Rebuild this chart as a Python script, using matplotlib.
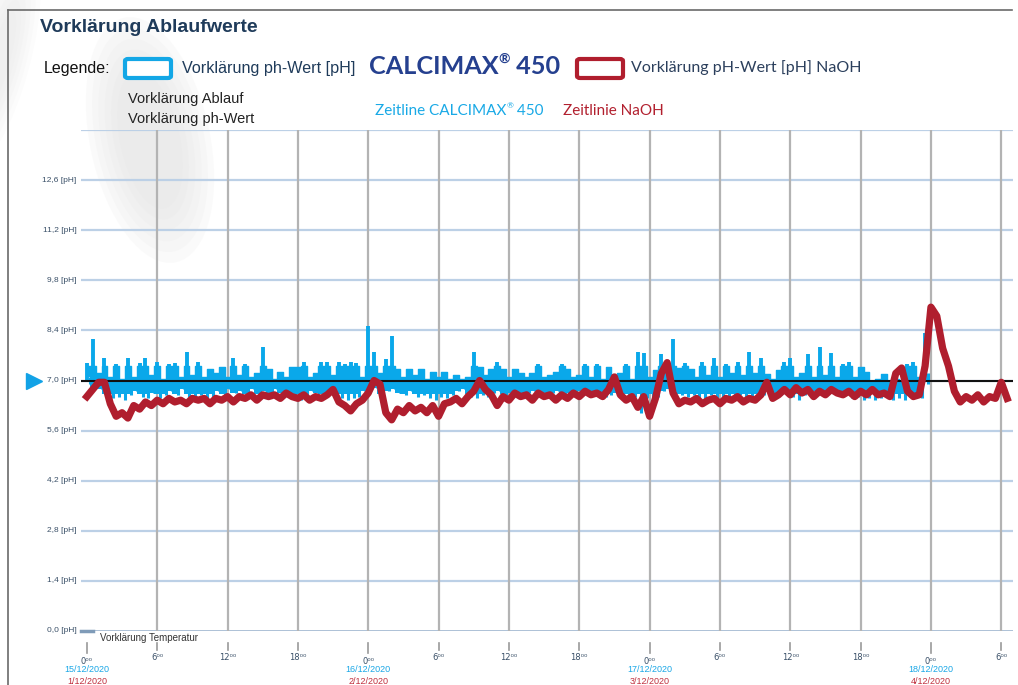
import matplotlib
matplotlib.use("Agg")
import matplotlib.pyplot as plt
import matplotlib.transforms as mtransforms
from matplotlib.patches import FancyBboxPatch, Ellipse
import numpy as np

# --- data (hours since 0:00 of the first day, pH) ---
# CALCIMAX line: upper and lower edge of the dense band, every half hour
blue_step = 0.5
blue_hi = [7.5, 8.15, 7.2, 7.64, 7.1, 7.45, 7.05, 7.64, 7.1, 7.5,
           7.64, 7.15, 7.53, 7.05, 7.45, 7.5, 7.1, 7.81, 7.15, 7.53,
           7.1, 7.31, 7.2, 7.38, 7.1, 7.64, 7.15, 7.45, 7.1, 7.2,
           7.95, 7.31, 7.05, 7.25, 7.1, 7.39, 7.38, 7.53, 7.1, 7.2,
           7.53, 7.53, 7.15, 7.53, 7.45, 7.53, 7.5, 7.1, 8.51, 7.8,
           7.2, 7.6, 8.23, 7.31, 7.1, 7.31, 7.15, 7.31, 7.05, 7.25,
           7.1, 7.25, 7.05, 7.15, 7.05, 7.1, 7.81, 7.39, 7.15, 7.31,
           7.53, 7.31, 7.1, 7.31, 7.2, 7.1, 7.2, 7.45, 7.1, 7.15,
           7.25, 7.45, 7.31, 7.1, 7.15, 7.45, 7.1, 7.45, 7.05, 7.39,
           7.1, 7.2, 7.45, 7.05, 7.81, 7.78, 7.1, 7.3, 7.73, 7.2,
           8.15, 7.35, 7.5, 7.31, 7.1, 7.53, 7.15, 7.64, 7.1, 7.45,
           7.2, 7.53, 7.15, 7.81, 7.2, 7.64, 7.17, 7.05, 7.3, 7.53,
           7.64, 7.1, 7.2, 7.73, 7.1, 7.95, 7.15, 7.78, 7.1, 7.45,
           7.53, 7.1, 7.39, 7.25, 7.0, 7.05, 7.17, 7.0, 7.05, 7.0,
           7.45, 7.53, 7.1, 8.34]
blue_lo = [7.1, 6.8, 6.75, 6.6, 6.5, 6.55, 6.45, 6.6, 6.7, 6.55,
           6.5, 6.65, 6.5, 6.6, 6.7, 6.6, 6.75, 6.55, 6.5, 6.6,
           6.5, 6.55, 6.7, 6.6, 6.75, 6.65, 6.7, 6.6, 6.75, 6.55,
           6.7, 6.6, 6.75, 6.65, 6.7, 6.5, 6.45, 6.6, 6.7, 6.65,
           6.6, 6.7, 6.75, 6.5, 6.45, 6.5, 6.55, 6.7, 6.75, 6.8,
           6.6, 6.7, 6.75, 6.65, 6.6, 6.7, 6.55, 6.6, 6.5, 6.45,
           6.55, 6.5, 6.6, 6.7, 6.75, 6.55, 6.5, 6.6, 6.55, 6.65,
           6.7, 6.6, 6.65, 6.7, 6.6, 6.65, 6.7, 6.6, 6.55, 6.65,
           6.7, 6.6, 6.65, 6.55, 6.7, 6.6, 6.65, 6.5, 6.55, 6.6,
           6.65, 6.7, 6.6, 6.55, 6.1, 6.5, 6.25, 6.55, 6.7, 6.75,
           6.7, 6.6, 6.55, 6.6, 6.5, 6.45, 6.6, 6.5, 6.45, 6.55,
           6.5, 6.6, 6.45, 6.55, 6.5, 6.6, 6.7, 6.55, 6.6, 6.65,
           6.55, 6.45, 6.6, 6.65, 6.7, 6.6, 6.65, 6.7, 6.6, 6.65,
           6.5, 6.55, 6.45, 6.5, 6.45, 6.5, 6.55, 6.45, 6.5, 6.45,
           6.55, 6.5, 6.5, 7.2]

red_step = 0.5
red_ph = [6.55, 6.75, 6.95, 6.95, 6.35, 6.0, 6.1, 5.95, 6.3, 6.2,
          6.4, 6.3, 6.45, 6.35, 6.5, 6.4, 6.45, 6.35, 6.5, 6.45,
          6.5, 6.35, 6.5, 6.45, 6.55, 6.4, 6.55, 6.5, 6.6, 6.45,
          6.6, 6.55, 6.6, 6.5, 6.65, 6.55, 6.5, 6.6, 6.45, 6.55,
          6.5, 6.6, 6.75, 6.4, 6.3, 6.15, 6.35, 6.45, 6.65, 7.0,
          6.9, 6.1, 5.9, 6.2, 6.1, 6.3, 6.15, 6.25, 6.1, 6.3,
          6.0, 6.35, 6.4, 6.5, 6.35, 6.55, 6.7, 7.0, 6.75, 6.6,
          6.3, 6.55, 6.45, 6.65, 6.55, 6.6, 6.45, 6.65, 6.55, 6.6,
          6.45, 6.6, 6.5, 6.65, 6.55, 6.7, 6.6, 6.65, 6.55, 6.75,
          7.1, 6.6, 6.45, 6.55, 6.25, 6.55, 6.0, 6.5, 7.2, 7.5,
          6.65, 6.35, 6.45, 6.4, 6.5, 6.35, 6.45, 6.5, 6.35, 6.5,
          6.45, 6.55, 6.4, 6.5, 6.45, 6.6, 6.95, 6.5, 6.6, 6.75,
          6.6, 6.8, 6.65, 6.75, 6.55, 6.7, 6.6, 6.75, 6.65, 6.6,
          6.7, 6.55, 6.7, 6.6, 6.75, 6.6, 6.65, 6.55, 7.2, 7.35,
          6.7, 6.55, 6.6, 7.4, 9.05, 8.8, 7.9, 7.4, 6.7, 6.4,
          6.55, 6.45, 6.6, 6.4, 6.55, 6.5, 6.95, 6.5]

temp_hours = [-0.5, 0.5]
temp_vals = [0.0, 0.0]

setpoint = 7.0
band_top = 7.4
band_bottom = 6.62
y_ticks = [0.0, 1.4, 2.8, 4.2, 5.6, 7.0, 8.4, 9.8, 11.2, 12.6]
x_ticks = [0, 6, 12, 18, 24, 30, 36, 42, 48, 54, 60, 66, 72, 78]
day_ticks = [0, 24, 48, 72]
dates_calcimax = ["15/12/2020", "16/12/2020", "17/12/2020", "18/12/2020"]
dates_naoh = ["1/12/2020", "2/12/2020", "3/12/2020", "4/12/2020"]

BLUE = "#0aa8ea"
RED = "#b01e2e"
NAVY = "#1f3b5a"
TICK = "#3a5068"

W, H = 1018, 685
fig = plt.figure(figsize=(W / 100, H / 100), dpi=100)
fig.patch.set_facecolor("white")
renderer = fig.canvas.get_renderer()


def px(x, y):
    return x / W, 1 - y / H


def sup_text(x, y, base, sup, tail, size, **kw):
    # text with a small raised "®"
    t = fig.text(*px(x, y), base, fontsize=size, va="center", **kw)
    x1 = t.get_window_extent(renderer).x1
    s = fig.text(x1 / W, 1 - (y - size * 0.45) / H, sup, fontsize=size * 0.55,
                 va="center", **kw)
    x2 = s.get_window_extent(renderer).x1
    fig.text(x2 / W, 1 - y / H, tail, fontsize=size, va="center", **kw)


# faint background shape
bg = fig.add_axes([0, 0, 1, 1], zorder=0)
bg.set_xlim(0, W)
bg.set_ylim(H, 0)
bg.axis("off")
for k in range(6):
    bg.add_patch(Ellipse((150, 140), 120 - 12 * k, 250 - 22 * k, angle=-12,
                         facecolor="#e2e2e2", edgecolor="none", alpha=0.15))
    bg.add_patch(Ellipse((0, 60), 60 - 8 * k, 220 - 24 * k, angle=15,
                         facecolor="#e2e2e2", edgecolor="none", alpha=0.1))
bg.plot([8, 8], [10, H], color="#6a6a6a", lw=1.2)
bg.plot([8, 1012], [10, 10], color="#6a6a6a", lw=1.2)

# main plot
ax = fig.add_axes([81 / W, 1 - 631 / H, 932 / W, 501 / H], zorder=2)
ax.patch.set_alpha(0)
ax.set_xlim(-0.5, 79.0)
ax.set_ylim(0, 14.0)
for s in ax.spines.values():
    s.set_visible(False)
ax.set_xticks([])
ax.set_yticks([])

for yv in y_ticks[1:] + [14.0]:
    ax.axhline(yv, color="#bcd0e6", lw=1.6, zorder=1)
ax.axhline(0.0, color="#9fb6cf", lw=1.2, zorder=1)
for xv in x_ticks[1:]:
    ax.axvline(xv, color="#b3b3b3", lw=1.6, zorder=1)

blue_t = np.arange(len(blue_hi)) * blue_step
red_t = np.arange(len(red_ph)) * red_step
hi = np.array(blue_hi)
lo = np.array(blue_lo)
# dense band with plateaus, then the tall spikes as thin strokes
ax.fill_between(blue_t, np.maximum(lo, band_bottom), np.minimum(hi, band_top),
                step="mid", color=BLUE, lw=0, zorder=3)
ax.plot(blue_t, np.minimum(hi, band_top), drawstyle="steps-mid", color=BLUE,
        lw=1.0, zorder=3)
ax.vlines(blue_t, 7.0, hi, color=BLUE, lw=2.8, zorder=3)
ax.vlines(blue_t + 0.25, lo, 6.9, color=BLUE, lw=2.2, zorder=3)
ax.axhline(setpoint, color="#111111", lw=1.5, zorder=4)
ax.plot(red_t, red_ph, color=RED, lw=5.2, solid_joinstyle="round", zorder=5)
ax.plot(temp_hours, temp_vals, color="#7f9bb8", lw=2.5, zorder=3, clip_on=False)

# y labels
ytr = mtransforms.blended_transform_factory(ax.transAxes, ax.transData)
for yv in y_ticks:
    ax.text(-0.005, yv, f"{yv:.1f}".replace(".", ",") + " [pH]",
            transform=ytr, ha="right", va="center", fontsize=6,
            color=TICK, family="Liberation Sans")
ax.plot([-0.05], [setpoint], transform=ytr, marker=">", color="#12a2e6",
        markersize=11, clip_on=False)

# x labels
xtr = mtransforms.blended_transform_factory(ax.transData, ax.transAxes)
for xv in x_ticks:
    day = xv % 24 == 0
    ax.plot([xv, xv], [-0.024, -0.044 if day else -0.038], transform=xtr,
            color="#999999", lw=1.2, clip_on=False)
    ax.text(xv, -0.06 if day else -0.052, f"{xv % 24}⁰⁰", transform=xtr,
            ha="center", va="center", fontsize=6, color=TICK,
            family="DejaVu Sans")
for xv, d1, d2 in zip(day_ticks, dates_calcimax, dates_naoh):
    ax.text(xv, -0.076, d1, transform=xtr, ha="center", va="center",
            fontsize=6.5, color="#1aa7e6", family="Liberation Sans")
    ax.text(xv, -0.1, d2, transform=xtr, ha="center", va="center",
            fontsize=6.5, color="#c0303e", family="Liberation Sans")
fig.text(*px(100, 638), "Vorklärung Temperatur", ha="left", va="center",
         fontsize=7, color="#333333", family="Liberation Sans")

# header and legend
fig.text(*px(40, 28), "Vorklärung Ablaufwerte", fontsize=14, weight="bold",
         color=NAVY, va="center", family="Liberation Sans")
fig.text(*px(44, 69), "Legende:", fontsize=11.5, color="#111111",
         va="center", family="Liberation Sans")
for x0, col in [(125, "#13a7e6"), (577, RED)]:
    bx = FancyBboxPatch(px(x0, 78), 46 / W, 19 / H,
                        boxstyle="round,pad=0,rounding_size=0.003",
                        transform=fig.transFigure, facecolor="white",
                        edgecolor=col, lw=3)
    fig.patches.append(bx)
fig.text(*px(182, 68), "Vorklärung ph-Wert [pH]", fontsize=11.6, color=NAVY,
         va="center", family="Liberation Sans")
sup_text(369, 67, "CALCIMAX", "®", " 450", 18.2, color="#25408f",
         family="Lato", weight="bold")
fig.text(*px(631, 68), "Vorklärung pH-Wert [pH] NaOH", fontsize=11.5,
         color="#2b3f5c", va="center", family="Lato")
fig.text(*px(128, 99), "Vorklärung Ablauf", fontsize=10.5, color="#222222",
         va="center", family="Liberation Sans")
fig.text(*px(128, 119), "Vorklärung ph-Wert", fontsize=10.5, color="#222222",
         va="center", family="Liberation Sans")
sup_text(375, 111, "Zeitline CALCIMAX", "®", " 450", 11, color="#19a9e6",
         family="Lato")
fig.text(*px(563, 111), "Zeitlinie NaOH", fontsize=11, color="#b2202f",
         va="center", family="Lato")

fig.savefig("out.png", dpi=100)
